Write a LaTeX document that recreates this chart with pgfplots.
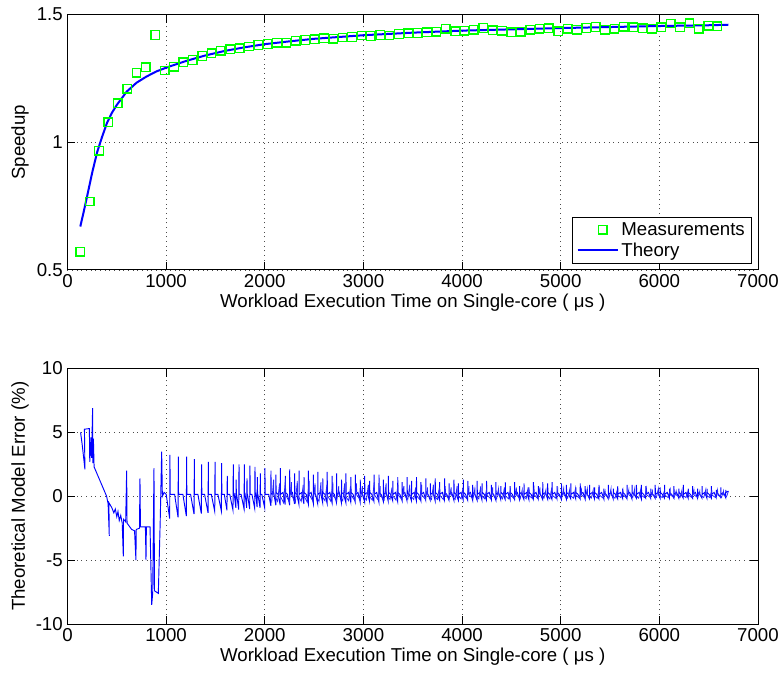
\documentclass[border=0pt]{standalone}
\usepackage{fontspec}
\setmainfont{Liberation Sans}
\usepackage{pgfplots}
\pgfplotsset{compat=1.18}

\definecolor{mgreen}{RGB}{0,255,0}
\definecolor{mblue}{RGB}{0,0,255}

\pgfplotsset{
  mat/.style={
    scale only axis, width=517.9pt, height=191.6pt,
    xmin=0, xmax=7000, xtick={0,1000,...,7000},
    scaled x ticks=false,
    /pgf/number format/1000 sep={},
    /pgf/number format/assume math mode=true,
    tick label style={font=\fontsize{14}{16}\selectfont},
    grid=major,
    major grid style={black!70, line width=0.5pt, dash pattern=on 0.75pt off 2.75pt},
    axis line style={line width=0.75pt},
    tick style={black, line width=0.75pt},
    major tick length=6pt,
    tick align=inside,
    xlabel={Workload Execution Time on Single-core ( μs )},
    every axis x label/.style={at={(axis description cs:0.5,0)}, yshift=-24.75pt, anchor=center,
      font=\fontsize{14}{16}\selectfont},
    every axis y label/.style={at={(axis description cs:0,0.5)}, xshift=-35.6pt, rotate=90, anchor=center,
      font=\fontsize{14}{16}\selectfont},
  },
  legmark/.style={legend image code/.code={\path[draw=none] (0pt,0pt) -- (30pt,0pt);
    \node[inner sep=0pt, minimum size=6.4pt, draw=mgreen, line width=1pt] at (15pt,0pt) {};}},
  legline/.style={legend image code/.code={\draw[mblue, line width=1.5pt] (0pt,0pt) -- (30pt,0pt);}},
}

\begin{document}
\begin{tikzpicture}
% speedup
\begin{axis}[mat, at={(0pt,0pt)}, anchor=south west,
  ymin=0.5, ymax=1.5, ytick={0.5,1,1.5},
  ylabel={Speedup},
  legend style={at={(1,0)}, anchor=south east, xshift=-4.5pt, yshift=4.5pt,
    font=\fontsize{14}{16}\selectfont, draw=black, line width=0.75pt},
  legend cell align=left]
\addplot[only marks, mark=square, mark size=3.2pt, mgreen, line width=1pt, legmark]
  coordinates {
  (130,0.572)(225,0.768)(320,0.967)(415,1.078)(510,1.153)(605,1.209)(700,1.272)(795,1.294)
  (890,1.420)(985,1.281)(1080,1.296)(1175,1.313)(1270,1.322)(1365,1.338)(1460,1.349)(1555,1.358)
  (1650,1.364)(1745,1.368)(1840,1.375)(1935,1.381)(2030,1.385)(2125,1.389)(2220,1.390)(2315,1.397)
  (2410,1.400)(2505,1.403)(2600,1.407)(2695,1.405)(2790,1.410)(2885,1.412)(2980,1.418)(3075,1.416)
  (3170,1.420)(3265,1.418)(3360,1.424)(3455,1.426)(3550,1.428)(3645,1.430)(3740,1.433)(3835,1.444)
  (3930,1.434)(4025,1.436)(4120,1.440)(4215,1.447)(4310,1.438)(4405,1.436)(4500,1.430)(4595,1.433)
  (4690,1.440)(4785,1.444)(4880,1.446)(4975,1.435)(5070,1.445)(5165,1.440)(5260,1.447)(5355,1.451)
  (5450,1.441)(5545,1.445)(5640,1.452)(5735,1.450)(5830,1.446)(5925,1.445)(6020,1.450)(6115,1.465)
  (6210,1.450)(6305,1.466)(6400,1.445)(6495,1.456)(6590,1.454)};
\addlegendentry{Measurements}
\addplot[mblue, line width=1.5pt, legline]
  coordinates {
  (130,0.67)(160,0.72)(200,0.79)(250,0.88)(300,0.96)(350,1.02)(400,1.075)(450,1.115)
  (500,1.146)(600,1.198)(700,1.233)(800,1.257)(900,1.277)(1000,1.292)(1200,1.318)(1400,1.340)
  (1600,1.358)(1800,1.372)(2000,1.384)(2250,1.395)(2500,1.405)(2750,1.412)(3000,1.419)(3500,1.429)
  (4000,1.437)(4500,1.442)(5000,1.447)(5500,1.451)(6000,1.455)(6500,1.458)(6700,1.460)};
\addlegendentry{Theory}
\end{axis}

% model error
\begin{axis}[mat, at={(0pt,-265.5pt)}, anchor=south west,
  ymin=-10, ymax=10, ytick={-10,-5,...,10},
  ylabel={Theoretical Model Error (\%)}]
\addplot[mblue, line width=0.7pt] coordinates {
  (133,5.0)(150,4.0)(177,2.1)(172,5.25)(222,5.3)(226,2.7)(238,4.6)(244,3.0)(255,6.9)(258,2.6)
  (263,4.5)(270,2.3)(397,0.0)(412,-0.6)(424,-3.1)(420,-0.5)(450,-0.9)(470,-1.3)(485,-1.0)(500,-1.6)
  (512,-1.2)(525,-1.9)(540,-1.5)(555,-2.1)(566,-4.7)(568,-1.8)(590,-2.0)(600,2.0)(604,-2.1)(651,-2.6)
  (680,-2.7)(694,-5.0)(697,-2.6)(730,-2.5)(735,1.4)(740,-2.4)(790,-2.4)(796,-5.0)(800,-2.4)(837,-2.4)
  (854,-8.5)(864,-7.6)(877,2.2)(882,-7.4)(921,-7.6)(940,-2.0)(955,3.5)(962,0.0)(979,0.3)
  (1001,0.15)(1036,-1.75)(1037,0.15)(1039,3.25)(1041,0.15)
  (1086,0.15)(1121,-1.65)(1122,0.15)(1124,3.1)(1126,0.15)
  (1170,0.15)(1205,-1.55)(1206,0.15)(1208,3.1)(1210,0.15)
  (1248,0.15)(1283,-1.4)(1284,0.15)(1286,2.9)(1288,0.15)
  (1322,0.15)(1357,-1.35)(1358,0.15)(1360,2.5)(1362,0.15)
  (1390,0.15)(1425,-1.3)(1426,0.15)(1428,2.7)(1430,0.15)
  (1458,0.15)(1493,-1.2)(1494,0.15)(1496,2.7)(1498,0.15)
  (1525,0.15)(1560,-1.15)(1561,0.15)(1563,2.6)(1565,0.15)
  (1590,0.15)(1617,-1.1)(1618,0.15)(1620,1.6)(1622,0.15)
  (1645,0.15)(1678,-1.1)(1679,0.15)(1681,2.5)(1683,0.15)
  (1690,0.2)(1707,-0.9)(1708,0.2)(1710,1.3)(1712,0.2)
  (1715,0.15)(1736,-1.05)(1737,0.15)(1739,2.5)(1741,0.15)
  (1760,0.15)(1790,-1.0)(1791,0.15)(1793,2.5)(1795,0.15)
  (1800,0.2)(1817,-0.9)(1818,0.2)(1820,1.4)(1822,0.2)
  (1825,0.15)(1847,-1.0)(1848,0.15)(1850,2.4)(1852,0.15)
  (1870,0.15)(1898,-0.95)(1899,0.15)(1901,2.3)(1903,0.15)
  (1908,0.2)(1922,-0.85)(1923,0.2)(1925,1.5)(1927,0.2)
  (1930,0.15)(1952,-0.9)(1953,0.15)(1955,1.8)(1957,0.15)
  (1970,0.15)(1999,-0.9)(2000,0.15)(2002,2.2)(2004,0.15)
  (2040,0.15)(2062,-0.75)(2063,2.0)(2065,0.15)(2090,0.3)(2112,-0.7)(2113,1.7)(2115,0.3)
  (2135,0.15)(2157,-0.7)(2158,2.2)(2160,0.15)(2185,0.3)(2207,-0.65)(2208,1.6)(2210,0.3)
  (2230,0.15)(2252,-0.7)(2253,2.1)(2255,0.15)(2280,0.3)(2302,-0.6)(2303,1.8)(2305,0.3)
  (2325,0.15)(2347,-0.65)(2348,2.0)(2350,0.15)(2375,0.3)(2397,-0.6)(2398,1.5)(2400,0.3)
  (2420,0.15)(2442,-0.6)(2443,2.0)(2445,0.15)(2470,0.3)(2492,-0.55)(2493,1.7)(2495,0.3)
  (2515,0.15)(2537,-0.6)(2538,1.9)(2540,0.15)(2565,0.3)(2587,-0.5)(2588,1.4)(2590,0.3)
  (2610,0.15)(2632,-0.55)(2633,1.9)(2635,0.15)(2660,0.3)(2682,-0.5)(2683,1.6)(2685,0.3)
  (2705,0.15)(2727,-0.5)(2728,1.8)(2730,0.15)(2755,0.3)(2777,-0.5)(2778,1.3)(2780,0.3)
  (2800,0.15)(2822,-0.5)(2823,1.8)(2825,0.15)(2850,0.3)(2872,-0.45)(2873,1.5)(2875,0.3)
  (2895,0.15)(2917,-0.45)(2918,1.7)(2920,0.15)(2945,0.3)(2967,-0.45)(2968,1.3)(2970,0.3)
  (2990,0.15)(3012,-0.45)(3013,1.6)(3015,0.15)(3040,0.3)(3062,-0.4)(3063,1.2)(3065,0.3)
  (3085,0.15)(3107,-0.4)(3108,1.7)(3110,0.15)(3135,0.3)(3157,-0.45)(3158,1.7)(3160,0.3)
  (3180,0.15)(3202,-0.4)(3203,1.3)(3205,0.15)(3230,0.3)(3252,-0.4)(3253,1.6)(3255,0.3)
  (3275,0.15)(3297,-0.35)(3298,1.2)(3300,0.15)(3325,0.3)(3347,-0.4)(3348,1.5)(3350,0.3)
  (3370,0.15)(3392,-0.35)(3393,1.1)(3395,0.15)(3420,0.3)(3442,-0.35)(3443,1.5)(3445,0.3)
  (3465,0.15)(3487,-0.35)(3488,1.2)(3490,0.15)(3515,0.3)(3537,-0.35)(3538,1.5)(3540,0.3)
  (3560,0.15)(3582,-0.35)(3583,1.1)(3585,0.15)(3610,0.3)(3632,-0.3)(3633,1.4)(3635,0.3)
  (3655,0.15)(3677,-0.3)(3678,1.0)(3680,0.15)(3705,0.3)(3727,-0.35)(3728,1.4)(3730,0.3)
  (3750,0.15)(3772,-0.3)(3773,1.1)(3775,0.15)(3800,0.3)(3822,-0.3)(3823,1.4)(3825,0.3)
  (3845,0.15)(3867,-0.3)(3868,1.0)(3870,0.15)(3895,0.3)(3917,-0.3)(3918,1.3)(3920,0.3)
  (3940,0.15)(3962,-0.3)(3963,1.0)(3965,0.15)(3990,0.3)(4012,-0.3)(4013,1.3)(4015,0.3)
  (4035,0.15)(4057,-0.3)(4058,1.2)(4060,0.15)(4085,0.3)(4107,-0.3)(4108,0.9)(4110,0.3)
  (4130,0.15)(4152,-0.3)(4153,1.2)(4155,0.15)(4180,0.3)(4202,-0.3)(4203,1.0)(4205,0.3)
  (4225,0.15)(4247,-0.3)(4248,1.2)(4250,0.15)(4275,0.3)(4297,-0.25)(4298,0.9)(4300,0.3)
  (4320,0.15)(4342,-0.3)(4343,1.1)(4345,0.15)(4370,0.3)(4392,-0.25)(4393,0.8)(4395,0.3)
  (4415,0.15)(4437,-0.25)(4438,1.1)(4440,0.15)(4465,0.3)(4487,-0.25)(4488,0.8)(4490,0.3)
  (4510,0.15)(4532,-0.25)(4533,1.1)(4535,0.15)(4560,0.3)(4582,-0.25)(4583,0.8)(4585,0.3)
  (4605,0.15)(4627,-0.25)(4628,1.0)(4630,0.15)(4655,0.3)(4677,-0.25)(4678,0.7)(4680,0.3)
  (4700,0.15)(4722,-0.25)(4723,1.1)(4725,0.15)(4750,0.3)(4772,-0.2)(4773,0.8)(4775,0.3)
  (4795,0.15)(4817,-0.25)(4818,1.1)(4820,0.15)(4845,0.3)(4867,-0.2)(4868,1.0)(4870,0.3)
  (4890,0.15)(4912,-0.25)(4913,1.1)(4915,0.15)(4940,0.3)(4962,-0.2)(4963,0.8)(4965,0.3)
  (4985,0.15)(5007,-0.25)(5008,1.0)(5010,0.15)(5035,0.3)(5057,-0.2)(5058,0.9)(5060,0.3)
  (5080,0.15)(5102,-0.2)(5103,1.0)(5105,0.15)(5130,0.3)(5152,-0.2)(5153,0.7)(5155,0.3)
  (5175,0.15)(5197,-0.2)(5198,1.0)(5200,0.15)(5225,0.3)(5247,-0.2)(5248,0.8)(5250,0.3)
  (5270,0.15)(5292,-0.2)(5293,0.9)(5295,0.15)(5320,0.3)(5342,-0.2)(5343,0.7)(5345,0.3)
  (5365,0.15)(5387,-0.2)(5388,0.9)(5390,0.15)(5415,0.3)(5437,-0.2)(5438,0.6)(5440,0.3)
  (5460,0.15)(5482,-0.2)(5483,0.9)(5485,0.15)(5510,0.3)(5532,-0.2)(5533,0.6)(5535,0.3)
  (5555,0.15)(5577,-0.2)(5578,0.8)(5580,0.15)(5605,0.3)(5627,-0.15)(5628,0.6)(5630,0.3)
  (5650,0.15)(5672,-0.2)(5673,0.9)(5675,0.15)(5700,0.3)(5722,-0.2)(5723,0.9)(5725,0.3)
  (5745,0.15)(5767,-0.15)(5768,0.9)(5770,0.15)(5795,0.3)(5817,-0.2)(5818,0.9)(5820,0.3)
  (5840,0.15)(5862,-0.15)(5863,0.8)(5865,0.15)(5890,0.3)(5912,-0.15)(5913,0.6)(5915,0.3)
  (5935,0.15)(5957,-0.15)(5958,0.9)(5960,0.15)(5985,0.3)(6007,-0.15)(6008,0.7)(6010,0.3)
  (6030,0.15)(6052,-0.15)(6053,0.9)(6055,0.15)(6080,0.3)(6102,-0.15)(6103,0.6)(6105,0.3)
  (6125,0.15)(6147,-0.15)(6148,0.8)(6150,0.15)(6175,0.3)(6197,-0.15)(6198,0.6)(6200,0.3)
  (6220,0.15)(6242,-0.15)(6243,0.9)(6245,0.15)(6270,0.3)(6292,-0.15)(6293,0.6)(6295,0.3)
  (6315,0.15)(6337,-0.15)(6338,0.8)(6340,0.15)(6365,0.3)(6387,-0.15)(6388,0.6)(6390,0.3)
  (6410,0.15)(6432,-0.15)(6433,0.8)(6435,0.15)(6460,0.3)(6482,-0.15)(6483,0.6)(6485,0.3)
  (6505,0.15)(6527,-0.15)(6528,0.8)(6530,0.15)(6555,0.3)(6577,-0.1)(6578,0.5)(6580,0.3)
  (6600,0.15)(6622,-0.1)(6623,0.7)(6625,0.15)(6650,0.3)(6672,-0.1)(6673,0.5)(6675,0.3)
  (6700,0.4)};
% interleaved smaller teeth in the dense part
\addplot[mblue!85, line width=0.6pt] coordinates {
  (2070,-0.5)(2090,1.3)(2092,0.1)(2130,-0.4)(2150,1.0)(2152,0.1)(2190,-0.5)(2210,1.4)(2212,0.1)
  (2250,-0.45)(2270,1.1)(2272,0.1)(2310,-0.5)(2330,1.2)(2332,0.1)(2370,-0.4)(2390,0.9)(2392,0.1)
  (2430,-0.45)(2450,1.2)(2452,0.1)(2490,-0.4)(2510,1.0)(2512,0.1)(2550,-0.4)(2570,1.1)(2572,0.1)
  (2610,-0.35)(2630,0.9)(2632,0.1)(2670,-0.4)(2690,1.1)(2692,0.1)(2730,-0.35)(2750,0.8)(2752,0.1)
  (2790,-0.35)(2810,1.0)(2812,0.1)(2850,-0.35)(2870,0.8)(2872,0.1)(2910,-0.3)(2930,1.0)(2932,0.1)
  (2970,-0.3)(2990,0.8)(2992,0.1)(3030,-0.3)(3050,0.9)(3052,0.1)(3090,-0.3)(3110,1.1)(3112,0.1)
  (3150,-0.3)(3170,0.8)(3172,0.1)(3210,-0.3)(3230,1.0)(3232,0.1)(3270,-0.25)(3290,0.7)(3292,0.1)
  (3330,-0.3)(3350,0.9)(3352,0.1)(3390,-0.25)(3410,0.8)(3412,0.1)(3450,-0.25)(3470,0.9)(3472,0.1)
  (3510,-0.25)(3530,0.7)(3532,0.1)(3570,-0.25)(3590,0.9)(3592,0.1)(3630,-0.25)(3650,0.7)(3652,0.1)
  (3690,-0.25)(3710,0.9)(3712,0.1)(3750,-0.25)(3770,0.7)(3772,0.1)(3810,-0.25)(3830,0.8)(3832,0.1)
  (3870,-0.2)(3890,0.7)(3892,0.1)(3930,-0.25)(3950,0.8)(3952,0.1)(3990,-0.2)(4010,0.7)(4012,0.1)
  (4050,-0.2)(4070,0.8)(4072,0.1)(4110,-0.2)(4130,0.6)(4132,0.1)(4170,-0.2)(4190,0.8)(4192,0.1)
  (4230,-0.2)(4250,0.6)(4252,0.1)(4290,-0.2)(4310,0.7)(4312,0.1)(4350,-0.2)(4370,0.6)(4372,0.1)
  (4410,-0.2)(4430,0.7)(4432,0.1)(4470,-0.2)(4490,0.5)(4492,0.1)(4530,-0.2)(4550,0.7)(4552,0.1)
  (4590,-0.2)(4610,0.5)(4612,0.1)(4650,-0.2)(4670,0.7)(4672,0.1)(4710,-0.15)(4730,0.6)(4732,0.1)
  (4770,-0.2)(4790,0.7)(4792,0.1)(4830,-0.15)(4850,0.5)(4852,0.1)(4890,-0.2)(4910,0.7)(4912,0.1)
  (4950,-0.15)(4970,0.5)(4972,0.1)(5010,-0.15)(5030,0.6)(5032,0.1)(5070,-0.15)(5090,0.5)(5092,0.1)
  (5130,-0.15)(5150,0.6)(5152,0.1)(5190,-0.15)(5210,0.5)(5212,0.1)(5250,-0.15)(5270,0.6)(5272,0.1)
  (5310,-0.15)(5330,0.5)(5332,0.1)(5370,-0.15)(5390,0.6)(5392,0.1)(5430,-0.15)(5450,0.4)(5452,0.1)
  (5490,-0.15)(5510,0.6)(5512,0.1)(5550,-0.15)(5570,0.4)(5572,0.1)(5610,-0.1)(5630,0.5)(5632,0.1)
  (5670,-0.15)(5690,0.5)(5692,0.1)(5730,-0.1)(5750,0.6)(5752,0.1)(5790,-0.15)(5810,0.5)(5812,0.1)
  (5850,-0.1)(5870,0.6)(5872,0.1)(5910,-0.1)(5930,0.4)(5932,0.1)(5970,-0.1)(5990,0.6)(5992,0.1)
  (6030,-0.1)(6050,0.4)(6052,0.1)(6090,-0.1)(6110,0.5)(6112,0.1)(6150,-0.1)(6170,0.4)(6172,0.1)
  (6210,-0.1)(6230,0.5)(6232,0.1)(6270,-0.1)(6290,0.4)(6292,0.1)(6330,-0.1)(6350,0.5)(6352,0.1)
  (6390,-0.1)(6410,0.4)(6412,0.1)(6450,-0.1)(6470,0.5)(6472,0.1)(6510,-0.1)(6530,0.4)(6532,0.1)
  (6570,-0.1)(6590,0.5)(6592,0.1)(6630,-0.1)(6650,0.4)(6652,0.1)(6680,-0.05)(6700,0.4)};
\end{axis}
\pgfresetboundingbox
\useasboundingbox (-50.6pt,-305.25pt) rectangle (535.9pt,202.5pt);
\end{tikzpicture}
\end{document}
